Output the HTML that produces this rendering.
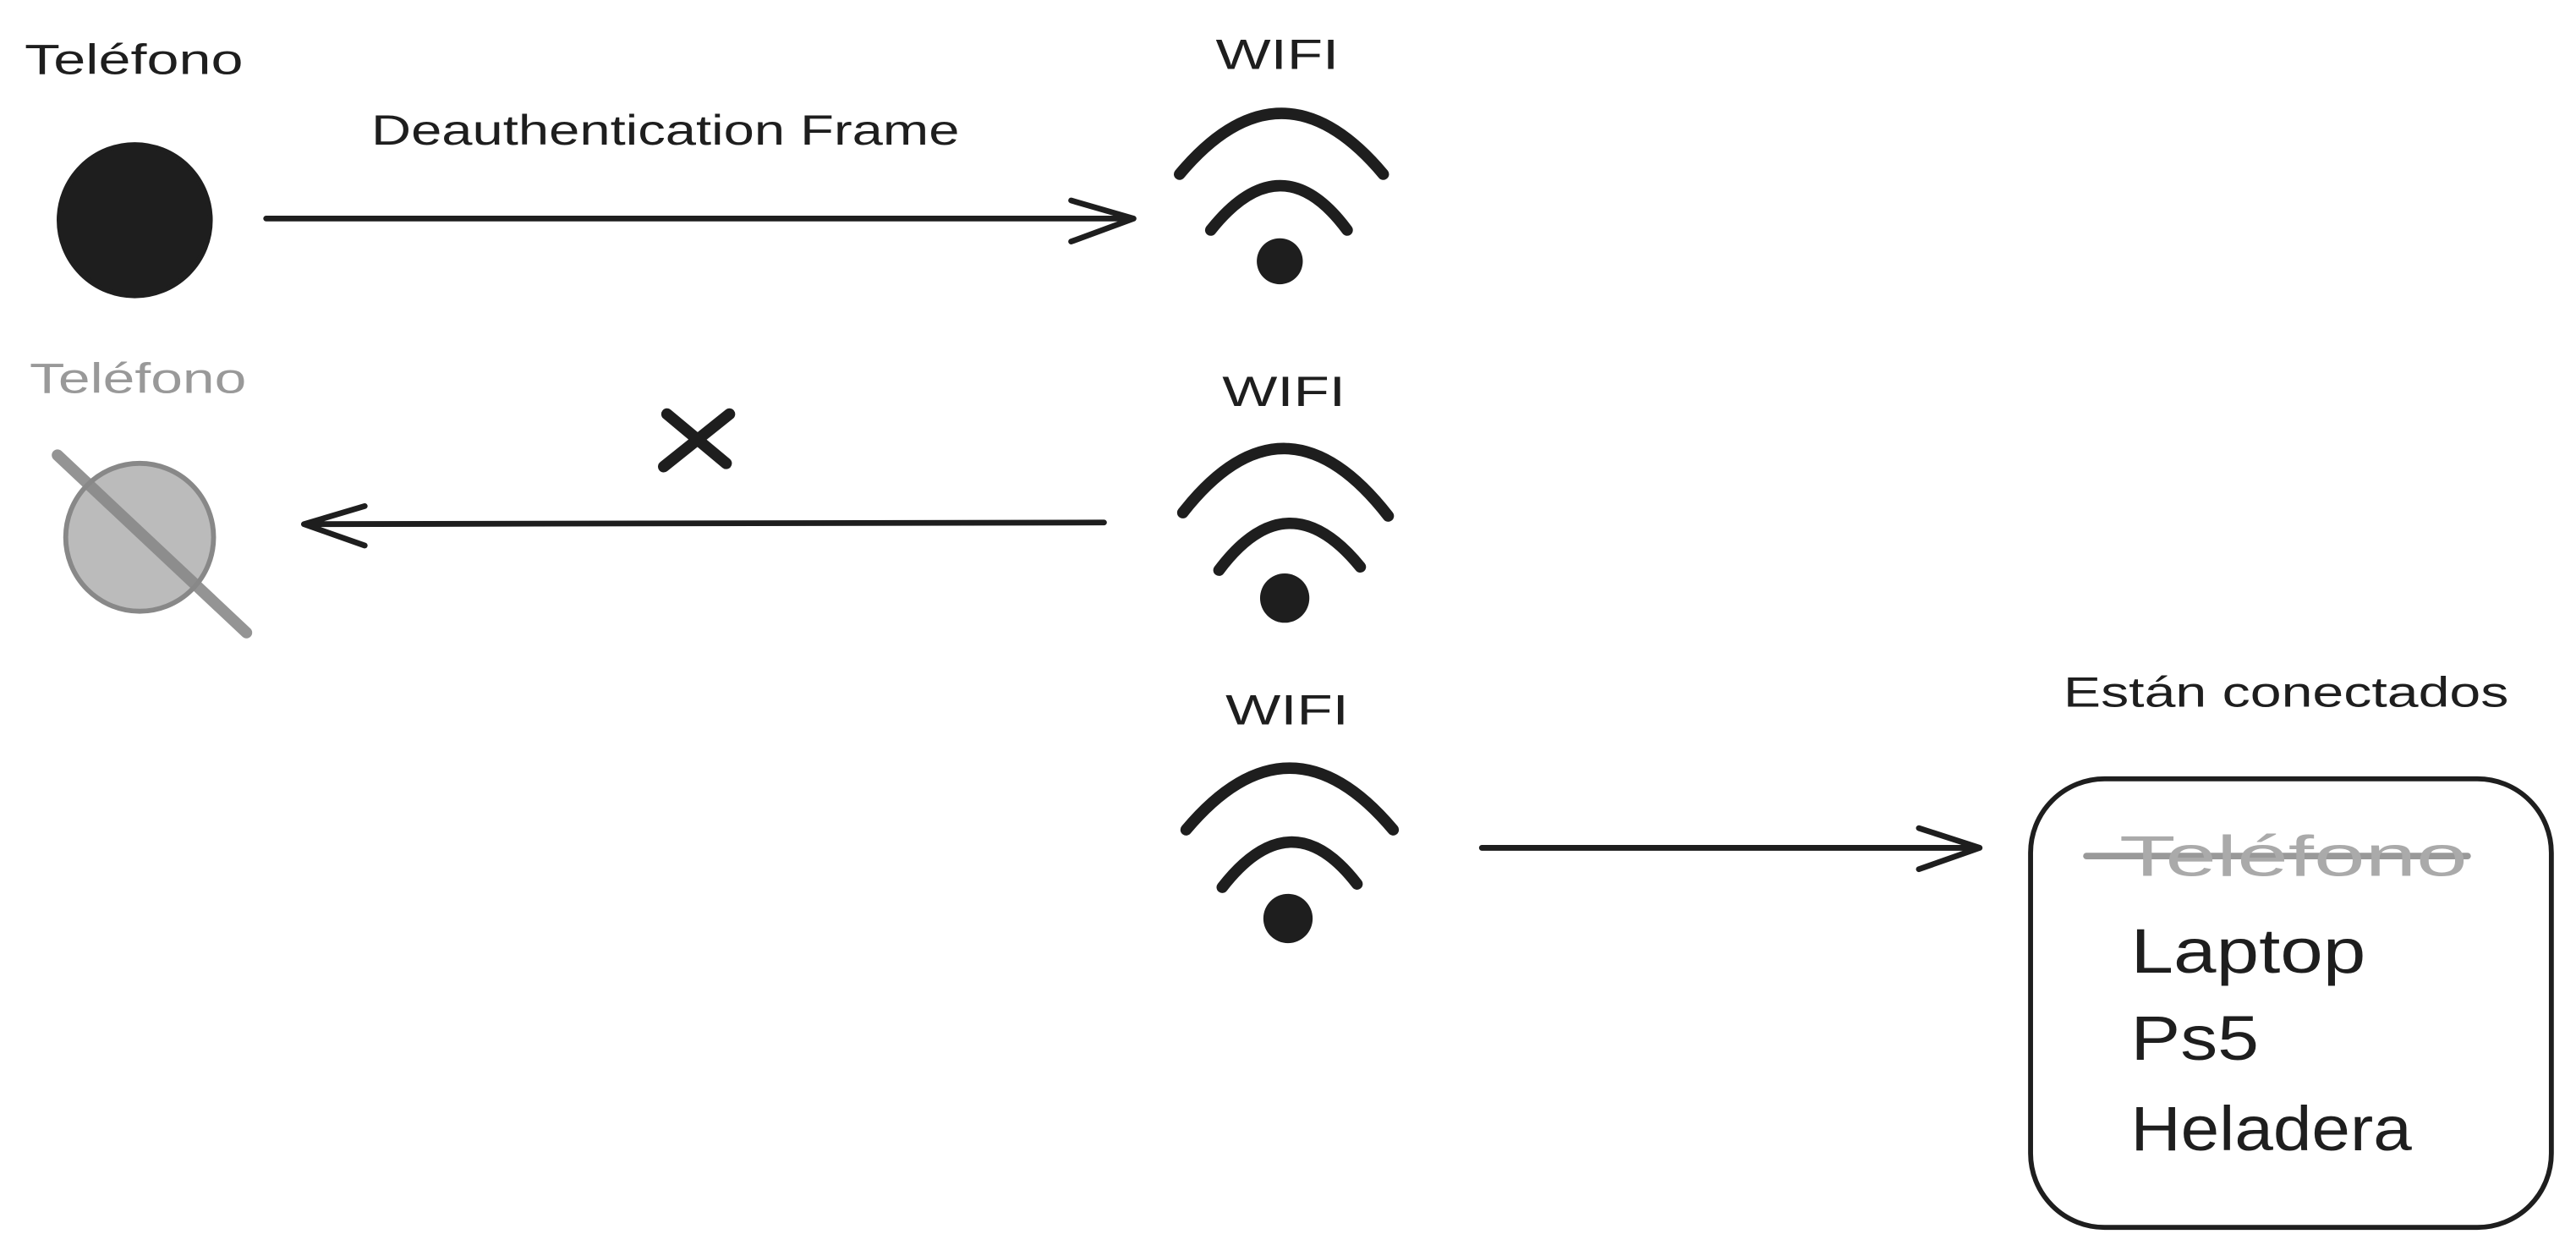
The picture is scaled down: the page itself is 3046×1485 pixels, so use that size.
<!DOCTYPE html>
<html><head><meta charset="utf-8"><style>
html,body{margin:0;padding:0;background:#fff;}
svg{display:block;}
text{font-family:"Liberation Sans",sans-serif;fill:#1e1e1e;}
</style></head><body>
<svg width="3046" height="1485" viewBox="0 0 1568 764.4" xmlns="http://www.w3.org/2000/svg">
<g fill="none" stroke="#1e1e1e" stroke-linecap="round" stroke-linejoin="round">
<circle cx="82" cy="134" r="46" fill="#1e1e1e" stroke-width="3"/>
<path d="M162 133 L690 133 M652 122 L690 133 L652 147" stroke-width="3.5"/>
<path d="M718 106 Q780 32 842 106" stroke-width="7"/>
<path d="M737 140 Q780 86 820 140" stroke-width="7"/>
<circle cx="85" cy="327" r="45" fill="#bbb" stroke="#888" stroke-width="3"/>
<path d="M35 277 L150 385" stroke="#888" stroke-width="7" opacity="0.9"/>
<path d="M406 252 L442 282 M444 252 L404 284" stroke-width="7"/>
<path d="M672 318 L185 319 M222 308 L185 319 L222 332" stroke-width="3.5"/>
<path d="M720 312 Q782 233 845 314" stroke-width="7"/>
<path d="M742 347 Q784 291 828 345" stroke-width="7"/>
<path d="M722 505 Q785 430 848 505" stroke-width="7"/>
<path d="M744 540 Q786 486 826 538" stroke-width="7"/>
<path d="M902 516 L1205 516 M1168 504 L1205 516 L1168 529" stroke-width="3.5"/>
<rect x="1236" y="474" width="317" height="273" rx="45" stroke-width="3"/>
<path d="M1270 521 L1502 521" stroke="#999" stroke-width="4"/>
</g>
<g fill="#1e1e1e">
<circle cx="779" cy="159" r="14"/>
<circle cx="782" cy="364" r="15"/>
<circle cx="784" cy="559" r="15"/>
</g>
<text x="15" y="45" font-size="26" textLength="133" lengthAdjust="spacingAndGlyphs">Teléfono</text>
<text x="226" y="88" font-size="26" textLength="358" lengthAdjust="spacingAndGlyphs">Deauthentication Frame</text>
<text x="740" y="42" font-size="26" textLength="75" lengthAdjust="spacingAndGlyphs">WIFI</text>
<text x="18" y="239" font-size="26" style="fill:#999" textLength="132" lengthAdjust="spacingAndGlyphs">Teléfono</text>
<text x="744" y="247" font-size="26" textLength="75" lengthAdjust="spacingAndGlyphs">WIFI</text>
<text x="746" y="441" font-size="26" textLength="75" lengthAdjust="spacingAndGlyphs">WIFI</text>
<text x="1256" y="430" font-size="26" textLength="271" lengthAdjust="spacingAndGlyphs">Están conectados</text>
<text x="1290" y="533" font-size="35" style="fill:#aaa" textLength="212" lengthAdjust="spacingAndGlyphs">Teléfono</text>
<text x="1297" y="592" font-size="38" textLength="143" lengthAdjust="spacingAndGlyphs">Laptop</text>
<text x="1297" y="645" font-size="38" textLength="78" lengthAdjust="spacingAndGlyphs">Ps5</text>
<text x="1297" y="700" font-size="38" textLength="171" lengthAdjust="spacingAndGlyphs">Heladera</text>
</svg>
</body></html>
